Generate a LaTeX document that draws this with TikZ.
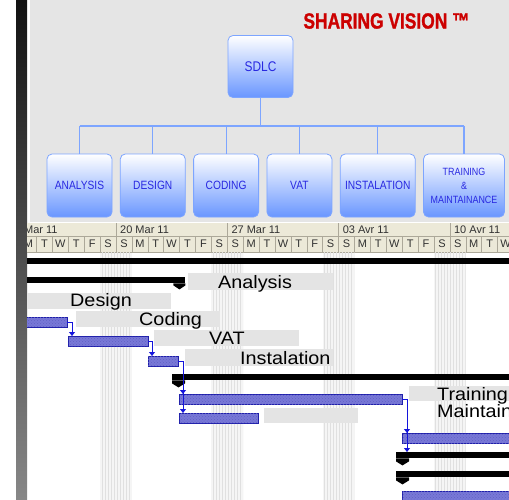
\documentclass[tikz,border=0pt]{standalone}
\usepackage{fontspec}
\setmainfont{Liberation Sans}
\newfontfamily\boxfont[FakeStretch=0.85]{Liberation Sans}
\newfontfamily\brandfont[UprightFont=* Bold, FakeStretch=0.79, FakeBold=1.2]{Liberation Sans}
\newfontfamily\ganttfont[FakeStretch=1.1]{Liberation Sans}
\usetikzlibrary{arrows.meta,positioning,patterns}
\definecolor{panelgray}{RGB}{229,229,229}
\definecolor{boxblue}{RGB}{105,150,255}
\definecolor{boxline}{RGB}{125,165,255}
\definecolor{boxtext}{RGB}{40,40,225}
\definecolor{brandred}{RGB}{204,0,0}
\definecolor{headbeige}{RGB}{236,233,216}
\definecolor{headline}{RGB}{172,168,153}
\definecolor{headtext}{RGB}{50,50,50}
\definecolor{taskblue}{RGB}{120,120,215}
\definecolor{taskline}{RGB}{30,30,170}
\definecolor{linkblue}{RGB}{20,20,220}
\definecolor{labelgray}{RGB}{228,228,228}
\tikzset{
    sdlc box/.style={rectangle, rounded corners=5pt, draw=boxline, thick, top color=white, bottom color=boxblue,
        text=boxtext, font=\boxfont\fontsize{12}{14}\selectfont, align=center, inner sep=0pt,
        minimum width=65pt, minimum height=63pt},
    tree line/.style={draw=boxline, line width=1.2pt},
    brand/.style={font=\brandfont\fontsize{22}{24}\selectfont, text=brandred, inner sep=0pt},
    head text/.style={font=\fontsize{11}{12}\selectfont, text=headtext, inner sep=0pt},
    head rule/.style={draw=headline, line width=0.6pt},
    weekend/.style={fill=black!4, postaction={pattern=vertical lines, pattern color=black!12}},
    summary bar/.style={rectangle, fill=black, inner sep=0pt, minimum height=6pt, anchor=north west},
    task bar/.style={rectangle, draw=taskline, fill=taskblue, inner sep=0pt, minimum height=10pt, anchor=north west,
        postaction={pattern=crosshatch dots, pattern color=taskline!70}},
    label box/.style={rectangle, fill=labelgray, inner sep=0pt, anchor=north west},
    gantt text/.style={font=\ganttfont\fontsize{18}{20}\selectfont, inner sep=0pt, anchor=base west},
    link/.style={draw=linkblue, line width=0.8pt, -{Triangle[width=6pt,length=4pt]}}
}
\begin{document}
\begin{tikzpicture}[x=1pt,y=1pt]
\useasboundingbox (0,0) rectangle (509,-499);
\clip (0,0) rectangle (509,-499);

% side bar and top panel
\shade[top color=black!93, bottom color=black!47] (16,0) rectangle (27,-499);
\fill[panelgray] (30,0) rectangle (509,-222);

\node[brand] (brand) at (386.5,-21) {SHARING VISION ™};

% SDLC tree
\node[sdlc box, minimum height=62pt, font=\boxfont\fontsize{14}{16}\selectfont] (sdlc) at (260.5,-66.5) {SDLC};
\node[sdlc box] (analysis) at (79.5,-185.5) {ANALYSIS};
\node[sdlc box, right=7.5pt of analysis] (design) {DESIGN};
\node[sdlc box, right=7.5pt of design] (coding) {CODING};
\node[sdlc box, right=7.5pt of coding] (vat) {VAT};
\node[sdlc box, right=7.5pt of vat, minimum width=75pt] (instalation) {INSTALATION};
\node[sdlc box, right=7.5pt of instalation, minimum width=81pt,
      font=\boxfont\fontsize{10.5}{14}\selectfont] (training) {TRAINING\\\&\\MAINTAINANCE};

\draw[tree line] (sdlc.south) -- ++(0,-28) coordinate (bus);
\draw[tree line] (bus -| analysis.north) -- (bus -| training.north);
\foreach \phase in {analysis,design,coding,vat,instalation,training}
    \draw[tree line] (bus -| \phase.north) -- (\phase.north);

% gantt chart
\begin{scope}
\clip (27,-222) rectangle (509,-499);
\fill[headbeige] (27,-223) rectangle (509,-252);
\draw[head rule] (27,-236) -- (509,-236);
\draw[head rule] (27,-252) -- (509,-252);
\foreach \w/\wlabel in {0/13 Mar 11, 1/20 Mar 11, 2/27 Mar 11, 3/03 Avr 11, 4/10 Avr 11} {
    \draw[head rule] (4.7+111.3*\w,-223) -- ++(0,-13);
    \node[head text, anchor=base west] (week\w) at (8.7+111.3*\w,-233.5) {\wlabel};
    \foreach \dl [count=\k from 0] in {S,M,T,W,T,F,S} {
        \draw[head rule] (4.7+111.3*\w+15.9*\k,-236) -- ++(0,-16);
        \node[head text, anchor=base] (day\w\k) at (12.65+111.3*\w+15.9*\k,-247) {\dl};
    }
}

% weekends
\foreach \s in {100,211.3,322.6,433.9}
    \path[weekend] (\s,-252.5) rectangle ++(31.8,-247);

% summary bars
\node[summary bar, minimum width=482pt] (sum0) at (27,-258) {};
\node[summary bar, minimum width=158pt] (sum1) at (27,-277) {};
\fill (sum1.south east) -- ++(0,-2) -- ++(-6,-4) -- ++(-6,4) -- ++(0,2) -- cycle;
\node[summary bar, minimum width=340pt] (sum2) at (172,-374) {};
\node[summary bar, minimum width=120pt] (sum3) at (396,-452) {};
\node[summary bar, minimum width=120pt] (sum4) at (396,-471) {};
\foreach \sb in {sum2,sum3,sum4}
    \fill (\sb.south west) -- ++(0,-3) -- ++(6.5,-4) -- ++(6.5,4) -- ++(0,3) -- cycle;

% labels
\node[label box, minimum width=145pt, minimum height=17pt] (lanalysis) at (188,-273) {};
\node[label box, minimum width=151pt, minimum height=16pt] (ldesign) at (20,-293) {};
\node[label box, minimum width=144pt, minimum height=16pt] (lcoding) at (76,-311) {};
\node[label box, minimum width=145pt, minimum height=16pt] (lvat) at (154,-330) {};
\node[label box, minimum width=148pt, minimum height=17pt] (linstalation) at (185,-349) {};
\node[label box, minimum width=94pt, minimum height=15pt] (lblank) at (264,-408) {};
\node[label box, minimum width=110pt, minimum height=15pt] (ltraining) at (409,-386) {};
\node[gantt text] (tanalysis) at (218,-288) {Analysis};
\node[gantt text] (tdesign) at (70,-306) {Design};
\node[gantt text] (tcoding) at (139,-325) {Coding};
\node[gantt text] (tvat) at (209,-344) {VAT};
\node[gantt text] (tinstalation) at (240,-364.5) {Instalation};
\node[gantt text] (ttraining) at (437,-400) {Training};
\node[gantt text] (tmaint) at (437,-417) {Maintainance};

% tasks
\node[task bar, minimum width=50pt] (bar1) at (17,-317) {};
\node[task bar, minimum width=80pt] (bar2) at (68,-336) {};
\node[task bar, minimum width=30pt] (bar3) at (148,-356) {};
\node[task bar, minimum width=223pt] (bar4) at (179,-394) {};
\node[task bar, minimum width=79pt] (bar5) at (179,-413) {};
\node[task bar, minimum width=120pt] (bar6) at (402,-433) {};
\node[task bar, minimum width=120pt] (bar7) at (402,-491) {};

% links
\draw[link] (bar1.east) -| ([xshift=4pt]bar2.north west);
\draw[link] (bar2.east) -| ([xshift=4pt]bar3.north west);
\draw[link] (bar3.east) -| ([xshift=4pt]bar4.north west);
\draw[link] (bar3.east) -| ([xshift=4pt]bar5.north west);
\draw[link] (bar4.east) -| ([xshift=5pt]bar6.north west);
\draw[link] (bar4.east) -| ([xshift=11pt]sum3.north west);
\end{scope}
\end{tikzpicture}
\end{document}
